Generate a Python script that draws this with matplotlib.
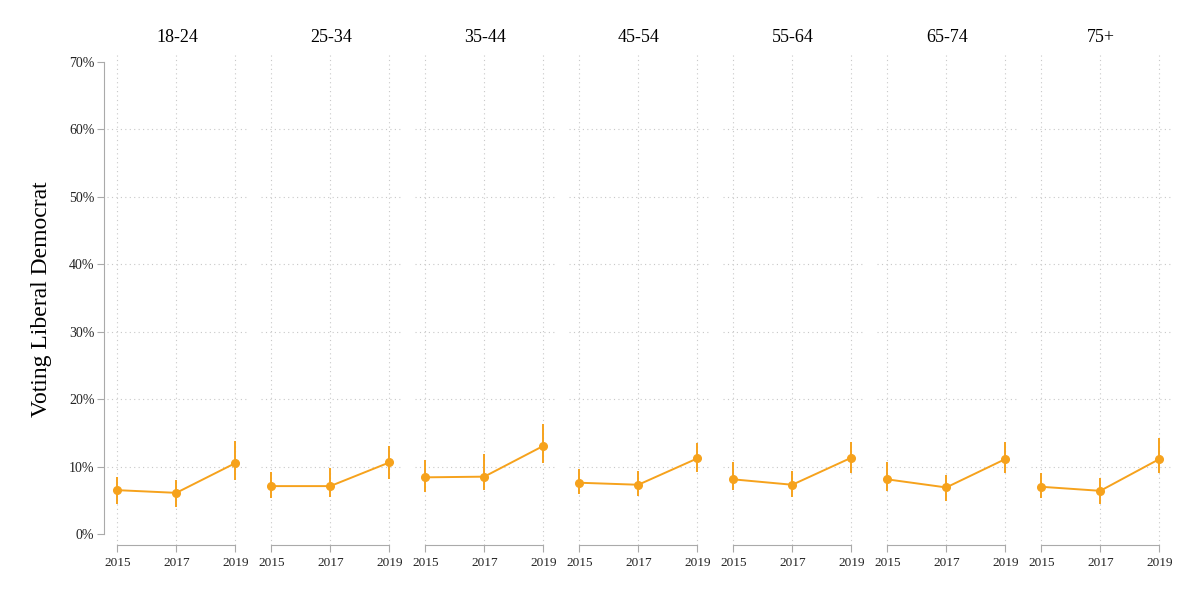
import numpy as np
import matplotlib.pyplot as plt

# --- datos ---
groups = ["18-24", "25-34", "35-44", "45-54", "55-64", "65-74", "75+"]
years = [2015, 2017, 2019]

share = [
    [6.5, 6.1, 10.5],
    [7.1, 7.1, 10.6],
    [8.4, 8.5, 13.05],
    [7.6, 7.3, 11.2],
    [8.1, 7.3, 11.3],
    [8.1, 6.9, 11.1],
    [7.0, 6.4, 11.1],
]
upper = [
    [8.4, 8.0, 13.8],
    [9.2, 9.8, 13.05],
    [10.9, 11.8, 16.3],
    [9.6, 9.4, 13.5],
    [10.6, 9.3, 13.7],
    [10.7, 8.7, 13.6],
    [9.0, 8.3, 14.2],
]
lower = [
    [4.5, 4.05, 8.0],
    [5.3, 5.5, 8.2],
    [6.3, 6.5, 10.5],
    [5.9, 5.6, 9.2],
    [6.5, 5.5, 9.1],
    [6.4, 4.9, 9.0],
    [5.3, 4.45, 9.0],
]

y_ticks = [0, 10, 20, 30, 40, 50, 60, 70]
grid_levels = [10, 20, 30, 40, 50, 60]   # rejilla horizontal (sin 0% ni 70%)

color = "#f6a21c"
axis_grey = "#aaaaaa"
grid_grey = "#c8c8c8"
grid_style = (0, (1, 3))
plt.rcParams['font.family'] = ['Liberation Serif', 'DejaVu Serif']

fig = plt.figure(figsize=(12, 6), dpi=100)

W, H = 1200.0, 600.0
left0, pitch, width = 107, 154, 140
top_px, bot_px = 53, 545
xlim = (2014.65, 2019.4)

for i, g in enumerate(groups):
    ax = fig.add_axes([(left0 + i * pitch) / W, (H - bot_px) / H,
                       width / W, (bot_px - top_px) / H])
    y = np.array(share[i])
    yerr = np.array([y - np.array(lower[i]), np.array(upper[i]) - y])
    ax.errorbar(years, y, yerr=yerr, color=color, lw=1.4, elinewidth=1.4,
                marker="o", markersize=5.5, capsize=0, zorder=3)

    ax.hlines(grid_levels, *xlim, colors=grid_grey, linestyles=grid_style,
              linewidth=0.8, zorder=0)
    ax.set_xlim(*xlim)
    ax.set_ylim(-1.63, 71.3)
    ax.set_xticks(years)
    ax.set_yticks(y_ticks)
    ax.grid(True, axis="x", linestyle=grid_style, color=grid_grey, linewidth=0.8)
    ax.set_axisbelow(True)

    for s in ["top", "right"]:
        ax.spines[s].set_visible(False)
    ax.spines["bottom"].set_bounds(2015, 2019)
    ax.spines["bottom"].set_color(axis_grey)
    ax.tick_params(axis="x", colors=axis_grey, labelcolor="#222222",
                   length=5, labelsize=9.5, pad=4)

    if i == 0:
        ax.spines["left"].set_bounds(0, 70)
        ax.spines["left"].set_position(("outward", 2))
        ax.spines["left"].set_color(axis_grey)
        ax.set_yticklabels([f"{v}%" for v in y_ticks])
        ax.tick_params(axis="y", colors=axis_grey, labelcolor="#222222",
                       length=5, labelsize=10, pad=2)
        ax.set_ylabel("Voting Liberal Democrat", fontsize=17, labelpad=12)
    else:
        ax.spines["left"].set_visible(False)
        ax.tick_params(axis="y", left=False, labelleft=False)

    ax.set_title(g, fontsize=13, pad=8)

plt.savefig("out.png", dpi=100)
